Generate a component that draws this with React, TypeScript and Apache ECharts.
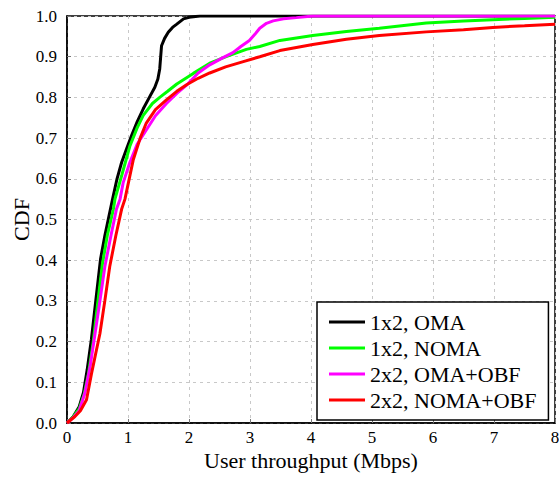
import React, { useEffect, useRef } from "react";
import * as echarts from "echarts";

const seriesNames = ["1x2, OMA", "1x2, NOMA", "2x2, OMA+OBF", "2x2, NOMA+OBF"];
const seriesColors = ["#000000", "#00ff00", "#ff00ff", "#ff0000"];

const omaX = [0, 0.1, 0.2, 0.27, 0.33, 0.4, 0.475, 0.55, 0.62, 0.676, 0.747, 0.82, 0.895, 0.98, 1.06, 1.15, 1.25, 1.35, 1.44, 1.49, 1.52, 1.55, 1.6, 1.66, 1.73, 1.8, 1.91, 2.0, 2.18, 2.5, 3, 4, 8];
const omaY = [0, 0.015, 0.04, 0.075, 0.13, 0.206, 0.305, 0.403, 0.46, 0.5, 0.55, 0.6, 0.64, 0.675, 0.707, 0.74, 0.772, 0.8, 0.825, 0.845, 0.87, 0.927, 0.945, 0.96, 0.972, 0.98, 0.993, 0.997, 1.0, 1, 1, 1, 1];

const nomaX = [0, 0.1, 0.2, 0.28, 0.35, 0.43, 0.5, 0.58, 0.66, 0.76, 0.786, 0.9, 1.03, 1.15, 1.25, 1.4, 1.52, 1.65, 1.8, 2.07, 2.34, 2.61, 2.94, 3.16, 3.49, 4.03, 4.58, 5.12, 5.89, 6.5, 6.98, 7.5, 8];
const nomaY = [0, 0.015, 0.035, 0.07, 0.12, 0.2, 0.29, 0.39, 0.46, 0.525, 0.55, 0.61, 0.68, 0.725, 0.756, 0.785, 0.8, 0.815, 0.833, 0.859, 0.884, 0.9, 0.918, 0.925, 0.94, 0.952, 0.962, 0.97, 0.983, 0.988, 0.991, 0.994, 0.997];

const omaObfX = [0, 0.1, 0.2, 0.295, 0.38, 0.46, 0.54, 0.62, 0.72, 0.81, 0.87, 0.92, 1.03, 1.15, 1.3, 1.45, 1.63, 1.8, 1.96, 2.15, 2.34, 2.55, 2.72, 2.85, 2.99, 3.08, 3.16, 3.27, 3.38, 3.55, 3.76, 4.03, 8];
const omaObfY = [0, 0.013, 0.03, 0.075, 0.14, 0.22, 0.3, 0.384, 0.46, 0.525, 0.55, 0.59, 0.64, 0.685, 0.72, 0.755, 0.785, 0.81, 0.83, 0.86, 0.88, 0.897, 0.91, 0.925, 0.94, 0.955, 0.97, 0.982, 0.988, 0.993, 0.996, 1.0, 1.0];

const nomaObfX = [0, 0.13, 0.22, 0.32, 0.4, 0.47, 0.54, 0.62, 0.7, 0.8, 0.895, 0.95, 1.085, 1.2, 1.3, 1.45, 1.63, 1.8, 1.96, 2.15, 2.34, 2.6, 2.89, 3.16, 3.49, 4.03, 4.58, 5.12, 5.89, 6.5, 6.98, 7.5, 8];
const nomaObfY = [0, 0.016, 0.03, 0.057, 0.12, 0.17, 0.22, 0.3, 0.384, 0.46, 0.525, 0.55, 0.646, 0.7, 0.737, 0.77, 0.794, 0.815, 0.831, 0.847, 0.86, 0.875, 0.888, 0.9, 0.915, 0.93, 0.943, 0.952, 0.961, 0.966, 0.972, 0.976, 0.98];

const xTicks = [0, 1, 2, 3, 4, 5, 6, 7, 8];
const yTicks = [0, 0.1, 0.2, 0.3, 0.4, 0.5, 0.6, 0.7, 0.8, 0.9, 1.0];

const allX = [omaX, nomaX, omaObfX, nomaObfX];
const allY = [omaY, nomaY, omaObfY, nomaObfY];

const FONT = "'Liberation Serif', serif";

export default function App() {
  const ref = useRef<HTMLDivElement>(null);
  useEffect(() => {
    if (!ref.current) return;
    const chart = echarts.init(ref.current, undefined, { renderer: "svg" });
    const series = seriesNames.map((name, i) => ({
      name,
      type: "line",
      data: allX[i].map((x, j) => [x, allY[i][j]]),
      showSymbol: false,
      symbol: "none",
      lineStyle: { color: seriesColors[i], width: 3 },
      itemStyle: { color: seriesColors[i] },
      smooth: false,
    }));
    chart.setOption({
      animation: false,
      backgroundColor: "#ffffff",
      textStyle: { fontFamily: FONT },
      grid: {
        left: 67,
        right: 4,
        top: 16,
        bottom: 54,
        show: true,
        borderColor: "#000",
        borderWidth: 1.5,
        containLabel: false,
        outerBoundsMode: "none",
      },
      xAxis: {
        type: "value",
        min: xTicks[0],
        max: xTicks[xTicks.length - 1],
        interval: 1,
        name: "User throughput (Mbps)",
        nameLocation: "middle",
        nameGap: 26,
        nameMoveOverlap: false,
        nameTextStyle: { fontFamily: FONT, fontSize: 22, color: "#000" },
        axisLine: { show: true, lineStyle: { color: "#000", width: 1.5 } },
        axisTick: { show: true, inside: true, length: 4, lineStyle: { color: "#777" } },
        axisLabel: { fontFamily: FONT, fontSize: 17, color: "#000", margin: 6 },
        splitLine: { show: true, lineStyle: { color: "#c8c8c8", type: [3, 4], width: 1 } },
      },
      yAxis: {
        type: "value",
        min: yTicks[0],
        max: yTicks[yTicks.length - 1],
        interval: 0.1,
        name: "CDF",
        nameLocation: "middle",
        nameRotate: 90,
        nameGap: 35,
        nameMoveOverlap: false,
        nameTextStyle: { fontFamily: FONT, fontSize: 22, color: "#000" },
        axisLine: { show: true, lineStyle: { color: "#000", width: 1.5 } },
        axisTick: { show: true, inside: true, length: 4, lineStyle: { color: "#777" } },
        axisLabel: {
          fontFamily: FONT,
          fontSize: 17,
          color: "#000",
          margin: 10,
          formatter: (v: number) => v.toFixed(1),
        },
        splitLine: { show: true, lineStyle: { color: "#c8c8c8", type: [3, 4], width: 1 } },
      },
      legend: {
        data: seriesNames,
        orient: "vertical",
        left: 317,
        top: 302,
        padding: [9, 12, 9, 12],
        itemGap: 4,
        itemWidth: 36,
        itemHeight: 3,
        icon: "rect",
        backgroundColor: "#ffffff",
        borderColor: "#000",
        borderWidth: 1.5,
        borderRadius: 0,
        textStyle: { fontFamily: FONT, fontSize: 22, color: "#000" },
      },
      series,
    });
    return () => chart.dispose();
  }, []);
  return <div ref={ref} style={{ width: 559, height: 477, position: "absolute", left: 0, top: 0 }} />;
}
